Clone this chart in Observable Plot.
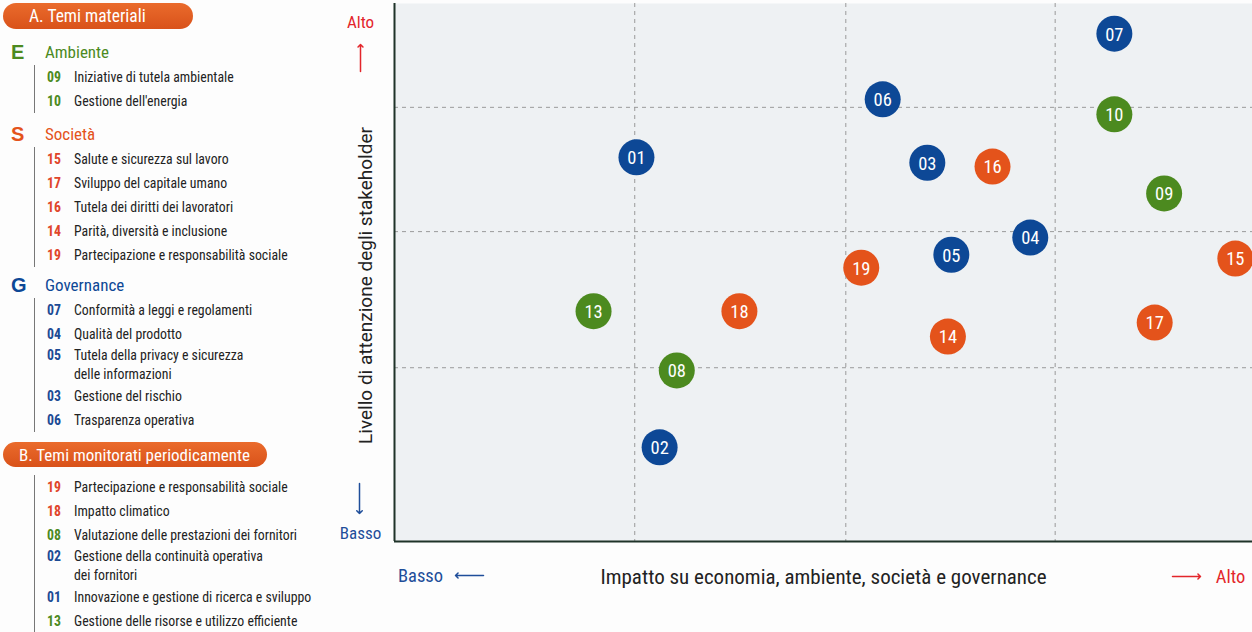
<!DOCTYPE html>
<html><head><meta charset="utf-8">
<script src="https://cdn.jsdelivr.net/npm/d3@7"></script>
<script src="https://cdn.jsdelivr.net/npm/@observablehq/plot@0.6"></script>
<style>
body{margin:0;background:#fdfdfd;width:1252px;height:632px;overflow:hidden;position:relative;
 font-family:"Liberation Sans Narrow","Roboto Condensed","Arial Narrow",sans-serif;color:#222;}
#legend{position:absolute;left:0;top:0;width:330px;}
.pill{margin-left:3px;color:#fff;border-radius:14px;background:linear-gradient(#ea6b2c,#d9521a);
 box-sizing:border-box;display:flex;align-items:center;}
.head{position:relative;height:26px;line-height:26px;}
.head .L{position:absolute;left:11px;font-size:20px;font-weight:bold;font-family:"Liberation Sans","Roboto",sans-serif;}
.head .T{position:absolute;left:45px;font-size:17px;}
.items{margin-left:34px;border-left:1.5px solid #777;}
.item{display:flex;font-size:13.8px;line-height:24px;}
.item.multi{line-height:19px;}
.item .n{width:27px;padding-left:12px;flex:none;font-weight:bold;}
#chart{position:absolute;left:332px;top:0;}
</style></head><body>
<div id="legend"></div>
<div id="chart"></div>
<script>
// ---- data ----
const topicIds   = ["01","02","03","04","05","06","07","08","09","10","13","14","15","16","17","18","19"];
const impact     = [28.2,30.9,62.1,74.1,64.9,56.9,83.9,32.9,89.7,83.9,23.2,64.5,98.0,69.7,88.6,40.2,54.4];
const attention  = [71.4,17.5,70.4,56.5,53.3,82.2,94.4,31.8,64.7,79.4,42.8,38.1,52.6,69.7,40.7,42.8,50.9];
const pillar     = ["G","G","G","G","G","G","G","E","E","E","E","S","S","S","S","S","S"];
const xGrid = [28.0, 52.6, 77.0];
const yGrid = [32.3, 57.6, 80.7];

const pillarColors = {E:"#4c8a1f", S:"#e4531b", G:"#0d4896"};
const numColors = {E:"#4c8a1f", S:"#e0452a", G:"#1c4a94"};

const sectionA = [
  {letter:"E", title:"Ambiente", items:[["09",["Iniziative di tutela ambientale"]],["10",["Gestione dell'energia"]]]},
  {letter:"S", title:"Società", items:[["15",["Salute e sicurezza sul lavoro"]],["17",["Sviluppo del capitale umano"]],["16",["Tutela dei diritti dei lavoratori"]],["14",["Parità, diversità e inclusione"]],["19",["Partecipazione e responsabilità sociale"]]]},
  {letter:"G", title:"Governance", items:[["07",["Conformità a leggi e regolamenti"]],["04",["Qualità del prodotto"]],["05",["Tutela della privacy e sicurezza","delle informazioni"]],["03",["Gestione del rischio"]],["06",["Trasparenza operativa"]]]}
];
const sectionB = [["19","S",["Partecipazione e responsabilità sociale"]],["18","S",["Impatto climatico"]],["08","E",["Valutazione delle prestazioni dei fornitori"]],["02","G",["Gestione della continuità operativa","dei fornitori"]],["01","G",["Innovazione e gestione di ricerca e sviluppo"]],["13","E",["Gestione delle risorse e utilizzo efficiente"]]];
const titleA = "A. Temi materiali", titleB = "B. Temi monitorati periodicamente";

// ---- legend ----
const lg = d3.select("#legend");
const itemRow = (sel, num, col, lines) => {
  const r = sel.append("div").attr("class", "item" + (lines.length > 1 ? " multi" : ""));
  r.append("div").attr("class","n").style("color", col).text(num);
  r.append("div").html(lines.join("<br>"));
};
lg.append("div").attr("class","pill").style("margin-top","3px").style("height","26px").style("width","190px").style("padding-left","26px").style("font-size","17.5px").text(titleA);
const gaps = {E:"10px", S:"8px", G:"5px"};
sectionA.forEach(s => {
  const h = lg.append("div").attr("class","head").style("margin-top", gaps[s.letter]).style("color", pillarColors[s.letter]);
  h.append("span").attr("class","L").text(s.letter);
  h.append("span").attr("class","T").text(s.title);
  const it = lg.append("div").attr("class","items");
  s.items.forEach(([n, lines]) => itemRow(it, n, numColors[s.letter], lines));
});
lg.append("div").attr("class","pill").style("margin-top","10px").style("height","25px").style("width","264px").style("padding-left","16px").style("font-size","17px").text(titleB);
const itB = lg.append("div").attr("class","items").style("margin-top","8px");
sectionB.forEach(([n, p, lines]) => itemRow(itB, n, numColors[p], lines));

// ---- chart ----
const data = topicIds.map((id, i) => ({id, x: impact[i], y: attention[i], p: pillar[i]}));
const red = "#e3262b", blue = "#1f4e9a";
const ff = "Liberation Sans Narrow, Roboto Condensed, Arial Narrow, sans-serif";
const ctr = {textAnchor: "middle", lineAnchor: "middle"};

const chart = Plot.plot({
  width: 920, height: 632,
  marginLeft: 62, marginRight: 0, marginTop: 3, marginBottom: 91,
  x: {domain: [0, 100], axis: null},
  y: {domain: [0, 100], axis: null},
  style: {background: "transparent", fontFamily: ff},
  marks: [
    Plot.frame({fill: "#eef1f3", stroke: null}),
    Plot.ruleX(xGrid, {stroke: "#9a9a9a", strokeDasharray: "4,4", strokeWidth: 1}),
    Plot.ruleY(yGrid, {stroke: "#9a9a9a", strokeDasharray: "4,4", strokeWidth: 1}),
    Plot.ruleX([0], {stroke: "#1f3329", strokeWidth: 2}),
    Plot.ruleY([0], {stroke: "#1f3329", strokeWidth: 2}),
    Plot.dot(data, {x: "x", y: "y", r: 18, fill: d => pillarColors[d.p], stroke: null}),
    Plot.text(data, {x: "x", y: "y", text: "id", fill: "white", fontSize: 18.5, fontFamily: ff, dy: 1}),
    // axis annotations
    Plot.text(["Alto"], {...ctr, frameAnchor: "top-left", dx: -34, dy: 19, fill: red, fontSize: 17, fontFamily: ff}),
    Plot.vector([0], {frameAnchor: "top-left", dx: -34, dy: 68, length: 27, rotate: 0, anchor: "start", r: 1.6, stroke: red, strokeWidth: 1.5}),
    Plot.vector([0], {frameAnchor: "bottom-left", dx: -35, dy: -58, length: 30, rotate: 180, anchor: "start", r: 1.6, stroke: blue, strokeWidth: 1.5}),
    Plot.text(["Basso"], {...ctr, frameAnchor: "bottom-left", dx: -34, dy: -8, fill: blue, fontSize: 17, fontFamily: ff}),
    Plot.text(["Livello di attenzione degli stakeholder"], {...ctr, frameAnchor: "left", dx: -29, dy: 13, rotate: -90, fill: "#222", fontSize: 19, fontFamily: "Roboto, sans-serif", letterSpacing: "0.6px"}),
    Plot.text(["Basso"], {...ctr, frameAnchor: "bottom-left", dx: 26, dy: 35, fill: blue, fontSize: 18.5, fontFamily: ff}),
    Plot.vector([0], {frameAnchor: "bottom-left", dx: 89, dy: 34, length: 28, rotate: -90, anchor: "start", r: 1.6, stroke: blue, strokeWidth: 1.5}),
    Plot.text(["Impatto su economia, ambiente, società e governance"], {...ctr, frameAnchor: "bottom", dy: 36, fill: "#222", fontSize: 21, fontFamily: ff}),
    Plot.vector([0], {frameAnchor: "bottom-right", dx: -80, dy: 35, length: 28, rotate: 90, anchor: "start", r: 1.6, stroke: red, strokeWidth: 1.5}),
    Plot.text(["Alto"], {...ctr, frameAnchor: "bottom-right", dx: -22, dy: 36, fill: red, fontSize: 18.5, fontFamily: ff})
  ]
});
document.getElementById("chart").append(chart);
</script>
</body></html>
